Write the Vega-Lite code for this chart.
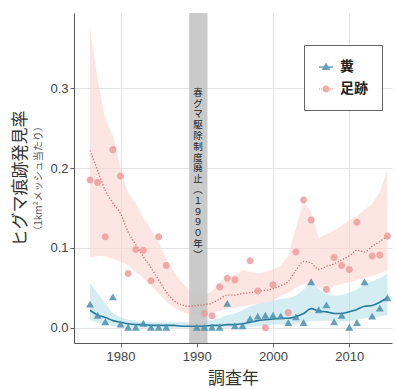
{
  "$schema": "https://vega.github.io/schema/vega-lite/v6.json",
  "width": 318,
  "height": 330,
  "padding": {"left": 11, "top": 13, "right": 4, "bottom": 4},
  "background": "white",
  "config": {
    "view": {"stroke": null},
    "font": "Liberation Sans",
    "axis": {
      "gridColor": "#e3e3e3",
      "gridWidth": 1,
      "domainColor": "#555555",
      "tickColor": "#666666",
      "labelColor": "#444444",
      "labelFontSize": 13,
      "titleFont": "Noto Sans CJK JP",
      "titleFontWeight": "normal",
      "titleColor": "#333333"
    }
  },
  "datasets": {
    "obs": [
      {"year": 1976, "type": "足跡", "value": 0.185},
      {"year": 1977, "type": "足跡", "value": 0.182},
      {"year": 1978, "type": "足跡", "value": 0.114},
      {"year": 1979, "type": "足跡", "value": 0.223},
      {"year": 1980, "type": "足跡", "value": 0.190},
      {"year": 1981, "type": "足跡", "value": 0.068},
      {"year": 1982, "type": "足跡", "value": 0.098},
      {"year": 1983, "type": "足跡", "value": 0.097},
      {"year": 1984, "type": "足跡", "value": 0.059},
      {"year": 1985, "type": "足跡", "value": 0.114},
      {"year": 1986, "type": "足跡", "value": 0.078},
      {"year": 1991, "type": "足跡", "value": 0.018},
      {"year": 1992, "type": "足跡", "value": 0.015},
      {"year": 1993, "type": "足跡", "value": 0.051},
      {"year": 1994, "type": "足跡", "value": 0.062},
      {"year": 1995, "type": "足跡", "value": 0.060},
      {"year": 1997, "type": "足跡", "value": 0.084},
      {"year": 1998, "type": "足跡", "value": 0.046},
      {"year": 1999, "type": "足跡", "value": 0.0},
      {"year": 2000, "type": "足跡", "value": 0.054},
      {"year": 2002, "type": "足跡", "value": 0.019},
      {"year": 2003, "type": "足跡", "value": 0.095},
      {"year": 2004, "type": "足跡", "value": 0.160},
      {"year": 2005, "type": "足跡", "value": 0.135},
      {"year": 2007, "type": "足跡", "value": 0.048},
      {"year": 2008, "type": "足跡", "value": 0.088},
      {"year": 2009, "type": "足跡", "value": 0.078},
      {"year": 2010, "type": "足跡", "value": 0.073},
      {"year": 2011, "type": "足跡", "value": 0.132},
      {"year": 2013, "type": "足跡", "value": 0.090},
      {"year": 2014, "type": "足跡", "value": 0.091},
      {"year": 2015, "type": "足跡", "value": 0.115},
      {"year": 1976, "type": "糞", "value": 0.029},
      {"year": 1977, "type": "糞", "value": 0.015},
      {"year": 1978, "type": "糞", "value": 0.007},
      {"year": 1979, "type": "糞", "value": 0.038},
      {"year": 1980, "type": "糞", "value": 0.004},
      {"year": 1981, "type": "糞", "value": 0.0},
      {"year": 1982, "type": "糞", "value": 0.0},
      {"year": 1983, "type": "糞", "value": 0.005},
      {"year": 1984, "type": "糞", "value": 0.0},
      {"year": 1985, "type": "糞", "value": 0.0},
      {"year": 1986, "type": "糞", "value": 0.0},
      {"year": 1990, "type": "糞", "value": 0.0},
      {"year": 1991, "type": "糞", "value": 0.0},
      {"year": 1992, "type": "糞", "value": 0.0},
      {"year": 1993, "type": "糞", "value": 0.0},
      {"year": 1994, "type": "糞", "value": 0.030},
      {"year": 1995, "type": "糞", "value": 0.002},
      {"year": 1996, "type": "糞", "value": 0.002},
      {"year": 1997, "type": "糞", "value": 0.011},
      {"year": 1998, "type": "糞", "value": 0.014},
      {"year": 1999, "type": "糞", "value": 0.015},
      {"year": 2000, "type": "糞", "value": 0.015},
      {"year": 2001, "type": "糞", "value": 0.014},
      {"year": 2002, "type": "糞", "value": 0.006},
      {"year": 2003, "type": "糞", "value": 0.013},
      {"year": 2004, "type": "糞", "value": 0.006},
      {"year": 2005, "type": "糞", "value": 0.057},
      {"year": 2006, "type": "糞", "value": 0.022},
      {"year": 2007, "type": "糞", "value": 0.028},
      {"year": 2008, "type": "糞", "value": 0.007},
      {"year": 2009, "type": "糞", "value": 0.015},
      {"year": 2010, "type": "糞", "value": 0.0},
      {"year": 2011, "type": "糞", "value": 0.006},
      {"year": 2012, "type": "糞", "value": 0.057},
      {"year": 2013, "type": "糞", "value": 0.014},
      {"year": 2014, "type": "糞", "value": 0.024},
      {"year": 2015, "type": "糞", "value": 0.037}
    ],
    "fit": [
      {"year": 1976, "type": "足跡", "fit": 0.222, "lo": 0.088, "hi": 0.375},
      {"year": 1977, "type": "足跡", "fit": 0.197, "lo": 0.090, "hi": 0.310},
      {"year": 1978, "type": "足跡", "fit": 0.172, "lo": 0.090, "hi": 0.262},
      {"year": 1979, "type": "足跡", "fit": 0.156, "lo": 0.086, "hi": 0.240},
      {"year": 1980, "type": "足跡", "fit": 0.143, "lo": 0.083, "hi": 0.200},
      {"year": 1981, "type": "足跡", "fit": 0.120, "lo": 0.078, "hi": 0.168},
      {"year": 1982, "type": "足跡", "fit": 0.104, "lo": 0.070, "hi": 0.156},
      {"year": 1983, "type": "足跡", "fit": 0.089, "lo": 0.062, "hi": 0.137},
      {"year": 1984, "type": "足跡", "fit": 0.075, "lo": 0.053, "hi": 0.123},
      {"year": 1985, "type": "足跡", "fit": 0.060, "lo": 0.043, "hi": 0.106},
      {"year": 1986, "type": "足跡", "fit": 0.045, "lo": 0.033, "hi": 0.086},
      {"year": 1987, "type": "足跡", "fit": 0.034, "lo": 0.025, "hi": 0.070},
      {"year": 1988, "type": "足跡", "fit": 0.029, "lo": 0.020, "hi": 0.057},
      {"year": 1989, "type": "足跡", "fit": 0.027, "lo": 0.017, "hi": 0.048},
      {"year": 1990, "type": "足跡", "fit": 0.028, "lo": 0.017, "hi": 0.043},
      {"year": 1991, "type": "足跡", "fit": 0.029, "lo": 0.018, "hi": 0.040},
      {"year": 1992, "type": "足跡", "fit": 0.031, "lo": 0.019, "hi": 0.046},
      {"year": 1993, "type": "足跡", "fit": 0.036, "lo": 0.021, "hi": 0.056},
      {"year": 1994, "type": "足跡", "fit": 0.041, "lo": 0.024, "hi": 0.064},
      {"year": 1995, "type": "足跡", "fit": 0.041, "lo": 0.025, "hi": 0.066},
      {"year": 1996, "type": "足跡", "fit": 0.043, "lo": 0.027, "hi": 0.072},
      {"year": 1997, "type": "足跡", "fit": 0.044, "lo": 0.029, "hi": 0.070},
      {"year": 1998, "type": "足跡", "fit": 0.046, "lo": 0.030, "hi": 0.068},
      {"year": 1999, "type": "足跡", "fit": 0.047, "lo": 0.032, "hi": 0.070},
      {"year": 2000, "type": "足跡", "fit": 0.049, "lo": 0.034, "hi": 0.073},
      {"year": 2001, "type": "足跡", "fit": 0.053, "lo": 0.040, "hi": 0.078},
      {"year": 2002, "type": "足跡", "fit": 0.058, "lo": 0.044, "hi": 0.090},
      {"year": 2003, "type": "足跡", "fit": 0.072, "lo": 0.050, "hi": 0.125},
      {"year": 2004, "type": "足跡", "fit": 0.083, "lo": 0.055, "hi": 0.158},
      {"year": 2005, "type": "足跡", "fit": 0.081, "lo": 0.055, "hi": 0.145},
      {"year": 2006, "type": "足跡", "fit": 0.073, "lo": 0.050, "hi": 0.112},
      {"year": 2007, "type": "足跡", "fit": 0.077, "lo": 0.050, "hi": 0.117},
      {"year": 2008, "type": "足跡", "fit": 0.080, "lo": 0.052, "hi": 0.122},
      {"year": 2009, "type": "足跡", "fit": 0.085, "lo": 0.055, "hi": 0.128},
      {"year": 2010, "type": "足跡", "fit": 0.090, "lo": 0.057, "hi": 0.135},
      {"year": 2011, "type": "足跡", "fit": 0.097, "lo": 0.060, "hi": 0.140},
      {"year": 2012, "type": "足跡", "fit": 0.095, "lo": 0.062, "hi": 0.148},
      {"year": 2013, "type": "足跡", "fit": 0.102, "lo": 0.065, "hi": 0.155},
      {"year": 2014, "type": "足跡", "fit": 0.108, "lo": 0.068, "hi": 0.170},
      {"year": 2015, "type": "足跡", "fit": 0.115, "lo": 0.072, "hi": 0.198},
      {"year": 1976, "type": "糞", "fit": 0.022, "lo": 0.010, "hi": 0.056},
      {"year": 1977, "type": "糞", "fit": 0.016, "lo": 0.006, "hi": 0.043},
      {"year": 1978, "type": "糞", "fit": 0.013, "lo": 0.004, "hi": 0.030},
      {"year": 1979, "type": "糞", "fit": 0.009, "lo": 0.002, "hi": 0.018},
      {"year": 1980, "type": "糞", "fit": 0.007, "lo": 0.001, "hi": 0.013},
      {"year": 1981, "type": "糞", "fit": 0.005, "lo": 0.000, "hi": 0.010},
      {"year": 1982, "type": "糞", "fit": 0.004, "lo": 0.000, "hi": 0.009},
      {"year": 1983, "type": "糞", "fit": 0.004, "lo": 0.000, "hi": 0.008},
      {"year": 1984, "type": "糞", "fit": 0.003, "lo": 0.000, "hi": 0.007},
      {"year": 1985, "type": "糞", "fit": 0.003, "lo": 0.000, "hi": 0.007},
      {"year": 1986, "type": "糞", "fit": 0.003, "lo": 0.000, "hi": 0.007},
      {"year": 1987, "type": "糞", "fit": 0.003, "lo": 0.000, "hi": 0.007},
      {"year": 1988, "type": "糞", "fit": 0.002, "lo": 0.000, "hi": 0.007},
      {"year": 1989, "type": "糞", "fit": 0.002, "lo": 0.000, "hi": 0.007},
      {"year": 1990, "type": "糞", "fit": 0.002, "lo": 0.000, "hi": 0.007},
      {"year": 1991, "type": "糞", "fit": 0.002, "lo": 0.000, "hi": 0.008},
      {"year": 1992, "type": "糞", "fit": 0.003, "lo": 0.000, "hi": 0.010},
      {"year": 1993, "type": "糞", "fit": 0.003, "lo": 0.000, "hi": 0.012},
      {"year": 1994, "type": "糞", "fit": 0.004, "lo": 0.000, "hi": 0.016},
      {"year": 1995, "type": "糞", "fit": 0.004, "lo": 0.000, "hi": 0.018},
      {"year": 1996, "type": "糞", "fit": 0.005, "lo": 0.000, "hi": 0.022},
      {"year": 1997, "type": "糞", "fit": 0.007, "lo": 0.001, "hi": 0.027},
      {"year": 1998, "type": "糞", "fit": 0.009, "lo": 0.002, "hi": 0.030},
      {"year": 1999, "type": "糞", "fit": 0.010, "lo": 0.003, "hi": 0.032},
      {"year": 2000, "type": "糞", "fit": 0.011, "lo": 0.004, "hi": 0.034},
      {"year": 2001, "type": "糞", "fit": 0.012, "lo": 0.004, "hi": 0.036},
      {"year": 2002, "type": "糞", "fit": 0.012, "lo": 0.004, "hi": 0.037},
      {"year": 2003, "type": "糞", "fit": 0.014, "lo": 0.005, "hi": 0.040},
      {"year": 2004, "type": "糞", "fit": 0.018, "lo": 0.007, "hi": 0.048},
      {"year": 2005, "type": "糞", "fit": 0.024, "lo": 0.009, "hi": 0.058},
      {"year": 2006, "type": "糞", "fit": 0.021, "lo": 0.009, "hi": 0.048},
      {"year": 2007, "type": "糞", "fit": 0.020, "lo": 0.009, "hi": 0.042},
      {"year": 2008, "type": "糞", "fit": 0.018, "lo": 0.008, "hi": 0.040},
      {"year": 2009, "type": "糞", "fit": 0.018, "lo": 0.008, "hi": 0.041},
      {"year": 2010, "type": "糞", "fit": 0.020, "lo": 0.009, "hi": 0.044},
      {"year": 2011, "type": "糞", "fit": 0.023, "lo": 0.010, "hi": 0.048},
      {"year": 2012, "type": "糞", "fit": 0.027, "lo": 0.012, "hi": 0.055},
      {"year": 2013, "type": "糞", "fit": 0.028, "lo": 0.013, "hi": 0.058},
      {"year": 2014, "type": "糞", "fit": 0.032, "lo": 0.014, "hi": 0.062},
      {"year": 2015, "type": "糞", "fit": 0.038, "lo": 0.016, "hi": 0.068}
    ],
    "anno": [
      {"start": 1989, "end": 1991.4, "mid": 1990.15, "ypos": 0.294, "label": "春\nグ\nマ\n駆\n除\n制\n度\n廃\n止\n︵\n１\n９\n９\n０\n年\n︶"}
    ]
  },
  "layer": [
    {
      "layer": [
        {
          "data": {"name": "fit"},
          "transform": [{"filter": "datum.type === '足跡'"}],
          "mark": {"type": "area", "color": "#fbd3cf", "opacity": 0.6},
          "encoding": {
            "x": {"field": "year", "type": "quantitative", "title": "調査年",
              "scale": {"domain": [1973.9, 2015.6], "nice": false, "zero": false},
              "axis": {"values": [1980, 1990, 2000, 2010], "format": "d", "titleFontSize": 17, "titlePadding": 7, "labelPadding": 3, "tickSize": 4, "grid": true}},
            "y": {"field": "lo", "type": "quantitative", "title": "（1km²メッシュ当たり）",
              "scale": {"domain": [-0.019, 0.394], "nice": false, "zero": false},
              "axis": {"values": [0, 0.1, 0.2, 0.3], "format": ".1f", "titleFontSize": 10, "titleColor": "#555555", "titlePadding": 6, "labelPadding": 2, "tickSize": 4, "grid": true}},
            "y2": {"field": "hi"}
          }
        },
        {
          "data": {"name": "fit"},
          "transform": [{"filter": "datum.type === '糞'"}],
          "mark": {"type": "area", "color": "#aadbe6", "opacity": 0.5},
          "encoding": {
            "x": {"field": "year", "type": "quantitative", "title": "調査年"},
            "y": {"field": "lo", "type": "quantitative", "title": "（1km²メッシュ当たり）"},
            "y2": {"field": "hi"}
          }
        },
        {
          "data": {"name": "anno"},
          "mark": {"type": "rect", "color": "#c4c4c4", "opacity": 0.9},
          "encoding": {
            "x": {"field": "start", "type": "quantitative", "title": "調査年"},
            "x2": {"field": "end"}
          }
        },
        {
          "data": {"name": "fit"},
          "transform": [{"filter": "datum.type === '足跡'"}],
          "mark": {"type": "line", "color": "#c96b6a", "strokeWidth": 1.3, "strokeDash": [1.2, 1.8], "interpolate": "monotone"},
          "encoding": {
            "x": {"field": "year", "type": "quantitative", "title": "調査年"},
            "y": {"field": "fit", "type": "quantitative", "title": "（1km²メッシュ当たり）"}
          }
        },
        {
          "data": {"name": "fit"},
          "transform": [{"filter": "datum.type === '糞'"}],
          "mark": {"type": "line", "color": "#2a7a9b", "strokeWidth": 1.6, "interpolate": "monotone"},
          "encoding": {
            "x": {"field": "year", "type": "quantitative", "title": "調査年"},
            "y": {"field": "fit", "type": "quantitative", "title": "（1km²メッシュ当たり）"}
          }
        },
        {
          "data": {"name": "obs"},
          "mark": {"type": "point", "filled": true, "opacity": 0.85, "size": 310, "strokeWidth": 0},
          "encoding": {
            "x": {"field": "year", "type": "quantitative", "title": "調査年"},
            "y": {"field": "value", "type": "quantitative", "title": "（1km²メッシュ当たり）"},
            "color": {"field": "type", "type": "nominal",
              "scale": {"domain": ["糞", "足跡"], "range": ["#4b8fae", "#ec9c9c"]},
              "legend": {
                "title": null, "orient": "none", "legendX": 230, "legendY": 32,
                "strokeColor": "#666666", "fillColor": "white", "padding": 14,
                "labelFontSize": 14, "labelFont": "Noto Sans CJK JP", "labelFontWeight": "bold",
                "labelColor": "#222222", "rowPadding": 7, "symbolSize": 196, "labelOffset": 6,
                "symbolStrokeWidth": 1.3,
                "encode": {"symbols": {
                  "enter": {
                    "stroke": {"signal": "datum.value === '糞' ? '#4b8fae' : '#ec9c9c'"},
                    "strokeWidth": {"value": 1.3}
                  },
                  "update": {
                    "stroke": {"signal": "datum.value === '糞' ? '#4b8fae' : '#ec9c9c'"},
                    "strokeWidth": {"value": 1.3},
                    "size": {"value": 196},
                    "opacity": {"value": 1}
                  }
                }}
              }},
            "stroke": {"field": "type", "type": "nominal",
              "scale": {"domain": ["糞", "足跡"], "range": ["#4b8fae", "#ec9c9c"]},
              "legend": null},
            "shape": {"field": "type", "type": "nominal",
              "scale": {"domain": ["糞", "足跡"], "range": [
                "M-1,0L1,0M-0.45,0.33L0,-0.45L0.45,0.33Z",
                "M-1,0L-0.85,0M-0.7,0L-0.55,0M0.55,0L0.7,0M0.85,0L1,0M0.4,0A0.4,0.4,0,1,1,-0.4,0A0.4,0.4,0,1,1,0.4,0Z"
              ]},
              "legend": null}
          }
        }
      ]
    },
    {
      "data": {"name": "anno"},
      "mark": {"type": "text", "lineBreak": "\n", "font": "Noto Sans CJK JP", "fontSize": 9.5, "lineHeight": 10.8, "color": "#222222", "align": "center", "baseline": "middle"},
      "encoding": {
        "x": {"field": "mid", "type": "quantitative", "title": "調査年"},
        "y": {"field": "ypos", "type": "quantitative", "title": "ヒグマ痕跡発見率",
          "scale": {"domain": [-0.019, 0.394], "nice": false, "zero": false},
          "axis": {"orient": "left", "titleFontSize": 17, "labels": false, "ticks": false, "domain": false, "grid": false, "minExtent": 0, "maxExtent": 0, "titlePadding": 45}},
        "text": {"field": "label"}
      }
    }
  ],
  "resolve": {"scale": {"y": "independent"}}
}
